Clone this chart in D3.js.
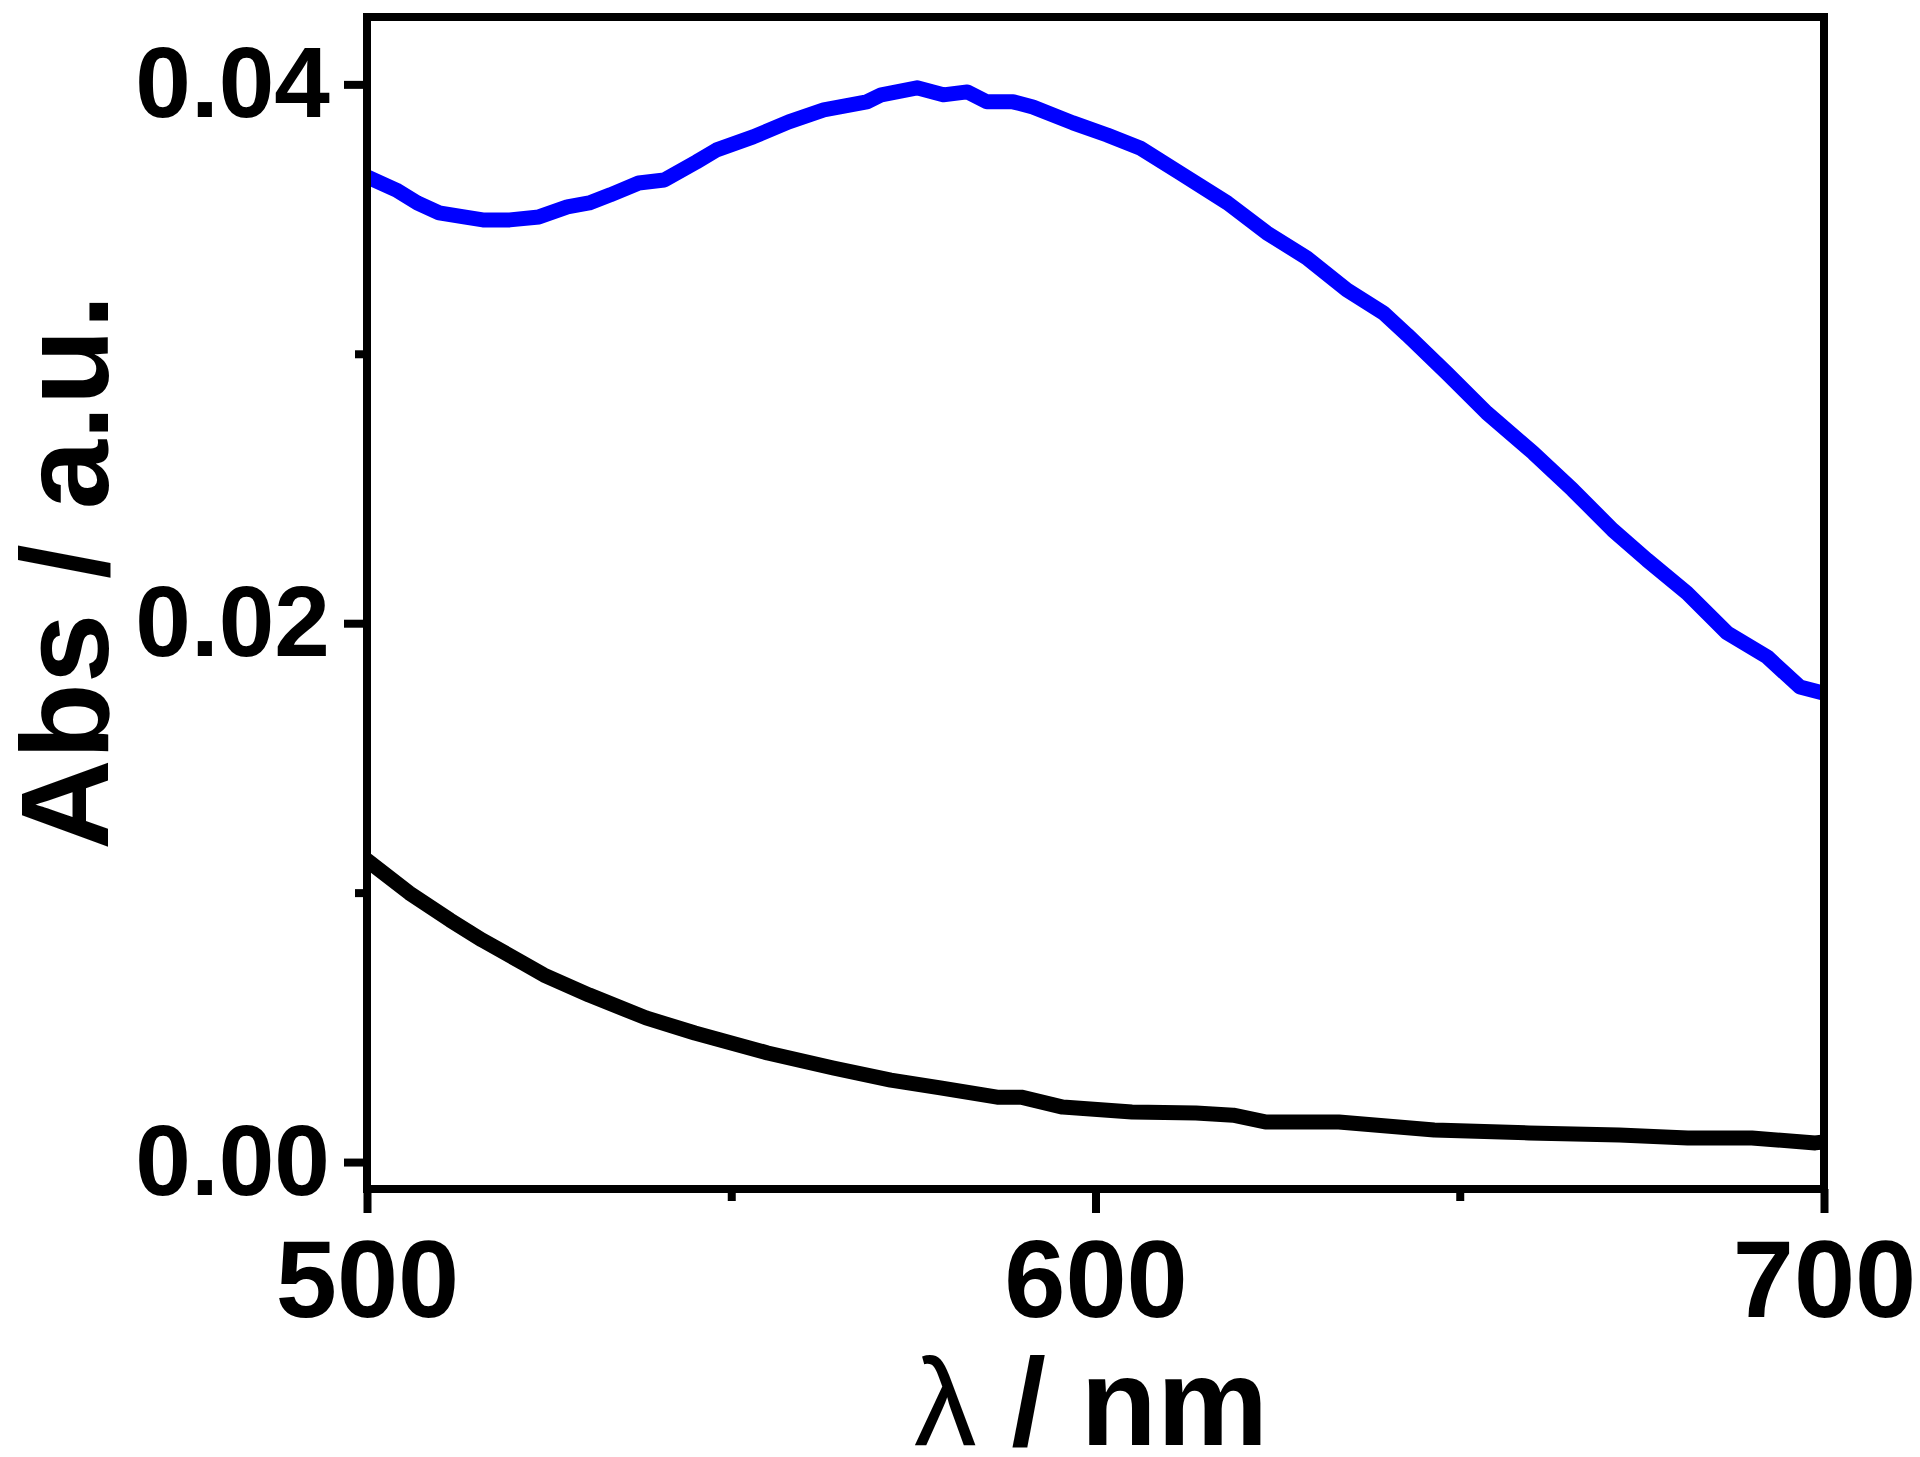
<!DOCTYPE html>
<html>
<head>
<meta charset="utf-8">
<script src="https://cdn.jsdelivr.net/npm/d3@7/dist/d3.min.js"></script>
<style>
  html, body { margin: 0; padding: 0; background: #fff; }
  svg { display: block; }
  text { font-family: "Liberation Sans", Arial, sans-serif; font-weight: bold; fill: #000; }
</style>
</head>
<body>
<script>
// ---- data (absorbance in units of 1e-3 a.u.) ----
const blueNm = [500,504,506.9,509.9,513.3,515.9,519.6,523.6,527.5,530.5,533.4,537.3,540.8,545.2,548,553,557.9,562.7,568.6,570.6,575.5,579.1,582.4,585.1,588.7,591.4,596.9,601.6,606.1,611.6,618.1,623.5,629,634.5,639.5,642.8,648.2,653.7,660.1,665.5,671,675.7,681.2,686.7,692.2,696.7,700];
const blueAbs = [36.57,36.08,35.60,35.23,35.08,34.97,34.97,35.08,35.45,35.60,35.90,36.34,36.45,37.12,37.57,38.05,38.61,39.05,39.35,39.61,39.87,39.61,39.72,39.35,39.35,39.16,38.57,38.12,37.64,36.71,35.60,34.49,33.56,32.37,31.52,30.70,29.29,27.81,26.32,24.95,23.46,22.35,21.12,19.64,18.75,17.63,17.40];
const blackNm = [500,505.8,511.4,515.8,521.4,524.3,530.5,538.3,545,555,564,571.9,578.7,586.5,589.8,595.5,605,613.8,618.9,623.3,633.4,646.5,659.5,671.9,681.3,690.1,698.8,700];
const blackAbs = [11.2,9.99,8.98,8.24,7.39,6.94,6.20,5.35,4.79,4.05,3.49,3.04,2.75,2.41,2.41,2.04,1.86,1.82,1.74,1.49,1.49,1.19,1.08,1.00,0.89,0.89,0.71,0.75];
const xMajorTicks = [500, 600, 700];
const xMinorTicks = [550, 650];
const yMajorTicks = [0.00, 0.02, 0.04];
const yMinorTicks = [0.01, 0.03];
const xTitle = ["λ", " / nm"];
const yTitle = "Abs / a.u.";
const xDomain = [500, 700];
const yDomain = [-0.001, 0.0425];

const W = 1920, H = 1457;
const svg = d3.select("body").append("svg").attr("width", W).attr("height", H);

const x = d3.scaleLinear().domain(xDomain).range([367, 1824]);
const y = d3.scaleLinear().domain(yDomain).range([1189, 17]);

const series = [
  { nm: blueNm, abs: blueAbs, color: "#0000ff" },
  { nm: blackNm, abs: blackAbs, color: "#000000" }
];

const line = d3.line().x(d => x(d[0])).y(d => y(d[1] / 1000)).curve(d3.curveLinear);

svg.append("defs").append("clipPath").attr("id", "clip")
  .append("rect").attr("x", x(500)).attr("y", y(yDomain[1])).attr("width", x(700) - x(500)).attr("height", y(yDomain[0]) - y(yDomain[1]));

const plot = svg.append("g").attr("clip-path", "url(#clip)");
series.forEach(s => {
  plot.append("path")
    .datum(s.nm.map((n, i) => [n, s.abs[i]]))
    .attr("d", line)
    .attr("fill", "none")
    .attr("stroke", s.color)
    .attr("stroke-width", 15)
    .attr("stroke-linejoin", "round")
    .attr("stroke-linecap", "round");
});

// frame
svg.append("rect")
  .attr("x", x(500)).attr("y", y(yDomain[1]))
  .attr("width", x(700) - x(500)).attr("height", y(yDomain[0]) - y(yDomain[1]))
  .attr("fill", "none").attr("stroke", "#000").attr("stroke-width", 8);

function styleAxis(g, fontSize) {
  g.select(".domain").remove();
  g.selectAll(".tick line").attr("stroke", "#000").attr("stroke-width", 8);
  g.selectAll(".tick text").attr("font-size", fontSize).attr("font-family", "Liberation Sans, Arial, sans-serif").attr("font-weight", "bold").attr("fill", "#000");
}

// y axis
const gy = svg.append("g").attr("transform", `translate(${x(500)},0)`)
  .call(d3.axisLeft(y).tickValues(yMajorTicks).tickSize(23).tickPadding(14).tickFormat(d3.format(".2f")));
styleAxis(gy, 100);
const gy2 = svg.append("g").attr("transform", `translate(${x(500)},0)`)
  .call(d3.axisLeft(y).tickValues(yMinorTicks).tickSize(12).tickFormat(""));
styleAxis(gy2, 100);

// x axis
const gx = svg.append("g").attr("transform", `translate(0,${y(yDomain[0])})`)
  .call(d3.axisBottom(x).tickValues(xMajorTicks).tickSize(24).tickPadding(26).tickFormat(d3.format("d")));
styleAxis(gx, 110);
const gx2 = svg.append("g").attr("transform", `translate(0,${y(yDomain[0])})`)
  .call(d3.axisBottom(x).tickValues(xMinorTicks).tickSize(12).tickFormat(""));
styleAxis(gx2, 110);

// titles
const xt = svg.append("text").attr("x", 1091).attr("y", 1445).attr("text-anchor", "middle").attr("font-size", 125);
xt.append("tspan").attr("font-weight", "normal").text(xTitle[0]);
xt.append("tspan").text(xTitle[1]);

svg.append("text")
  .attr("transform", "translate(108,572) rotate(-90)")
  .attr("text-anchor", "middle").attr("font-size", 125)
  .text(yTitle);
</script>
</body>
</html>
